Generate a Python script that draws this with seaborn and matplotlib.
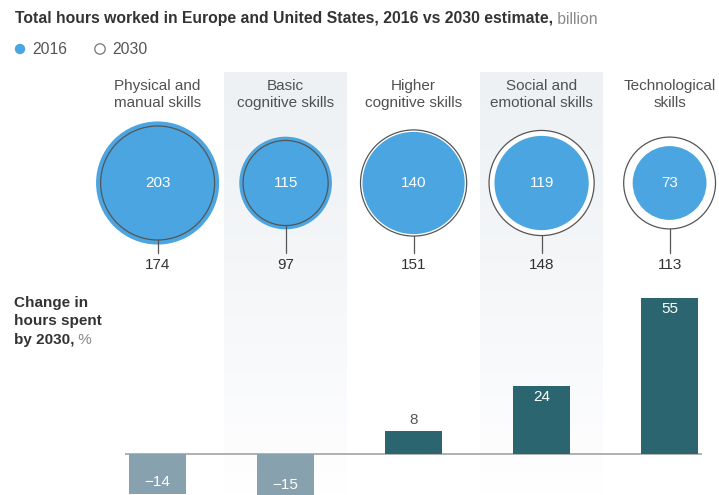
import numpy as np
import pandas as pd
import matplotlib
matplotlib.use("Agg")
import matplotlib.pyplot as plt
from matplotlib.patches import Circle
from matplotlib.colors import LinearSegmentedColormap
import seaborn as sns

# ---------------- data ----------------
categories = ["Physical and\nmanual skills", "Basic\ncognitive skills", "Higher\ncognitive skills",
              "Social and\nemotional skills", "Technological\nskills"]
hours_2016 = [203, 115, 140, 119, 73]
hours_2030 = [174, 97, 151, 148, 113]
change_pct = [-14, -15, 8, 24, 55]
shaded = [False, True, False, True, False]

title_bold = "Total hours worked in Europe and United States, 2016 vs 2030 estimate,"
title_unit = " billion"
legend_labels = ["2016", "2030"]

# ---------------- style ----------------
sns.set_theme(style="white")
plt.rcParams['font.family'] = ['Liberation Sans', 'DejaVu Sans']

BLUE = "#4ba5e0"
POS = "#2b6670"
NEG = "#88a1af"
DARK = "#333333"
GREY = "#8a8a8a"

W, H = 719, 495
fig = plt.figure(figsize=(W / 100, H / 100), dpi=100)
fig.patch.set_facecolor("white")

# background axes in pixel coordinates (for bands & free text)
bg = fig.add_axes([0, 0, 1, 1])
bg.axis("off")

UNIT = 128.0          # px per category
X0 = 93.6             # px of x = -0.5
n = len(categories)

# shaded gradient bands (fade to white toward the bar baseline)
grad = np.linspace(0, 1, 256).reshape(-1, 1)
band_cmap = LinearSegmentedColormap.from_list(
    "band", [(0, "#edf1f4"), (0.45, "#f4f6f8"), (0.9, "#fdfdfe"), (1.0, "#ffffff")])
for i, s in enumerate(shaded):
    if s:
        cx = X0 + (i + 0.5) * UNIT
        bg.imshow(grad, cmap=band_cmap, aspect="auto",
                  extent=[cx - 61.5, cx + 61.5, H, 72], zorder=0)
bg.set_xlim(0, W)
bg.set_ylim(H, 0)

# title
t = bg.text(15, 19, title_bold, fontsize=11.3, fontweight="bold", color=DARK,
            va="center", ha="left")
bg.annotate(title_unit, xy=(1, 0), xycoords=t, va="bottom", ha="left",
            fontsize=11.3, color=GREY)

# legend
bg.add_patch(Circle((20, 49), 5.2, facecolor=BLUE, edgecolor="none"))
bg.add_patch(Circle((100, 49), 5.2, facecolor="white", edgecolor="#777777", lw=0.9))
bg.text(32, 49, legend_labels[0], fontsize=11.3, color="#555555", va="center")
bg.text(112, 49, legend_labels[1], fontsize=11.3, color="#555555", va="center")

# left label for bar section
bg.text(14, 303, "Change in", fontsize=11, fontweight="bold", color=DARK, va="center")
bg.text(14, 321.5, "hours spent", fontsize=11, fontweight="bold", color=DARK, va="center")
t3 = bg.text(14, 340, "by 2030,", fontsize=11, fontweight="bold", color=DARK, va="center")
bg.annotate(" %", xy=(1, 0), xycoords=t3, va="bottom", ha="left", fontsize=11, color=GREY)

# ---------------- circles axes ----------------
XMIN, XMAX = -0.5, 4.38
ax_w = (XMAX - XMIN) * UNIT
top_px, bot_px = 60, 280
ca = fig.add_axes([X0 / W, 1 - bot_px / H, ax_w / W, (bot_px - top_px) / H])
ca.set_xlim(XMIN, XMAX)
ca.set_ylim(0, (bot_px - top_px) / UNIT)
ca.patch.set_alpha(0)
ca.axis("off")

def ypx(py):
    return (bot_px - py) / UNIT

K = 4.32 / UNIT
cy = ypx(183)
for i in range(n):
    r16 = K * np.sqrt(hours_2016[i])
    r30 = K * np.sqrt(hours_2030[i])
    ca.add_patch(Circle((i, cy), r30, facecolor="white", edgecolor="none", zorder=1))
    ca.add_patch(Circle((i, cy), r16, facecolor=BLUE, edgecolor="none", zorder=2))
    ca.add_patch(Circle((i, cy), r30, facecolor="none", edgecolor="#555555", lw=0.9, zorder=3))
    ca.plot([i, i], [cy - r30, ypx(253)], color="#555555", lw=0.9, zorder=3)
    ca.text(i, cy, str(hours_2016[i]), color="white", fontsize=11, ha="center", va="center", zorder=4)
    ca.text(i, ypx(265), str(hours_2030[i]), color=DARK, fontsize=11, ha="center", va="center")
    l1, l2 = categories[i].split("\n")
    ca.text(i, ypx(86), l1, color="#505050", fontsize=11, ha="center", va="center")
    ca.text(i, ypx(103), l2, color="#505050", fontsize=11, ha="center", va="center")

# ---------------- bar axes ----------------
PXU = 2.84  # px per percentage point
base_px = 454
ba = fig.add_axes([X0 / W, 0, ax_w / W, (H - 280) / H])
df = pd.DataFrame({"cat": categories, "chg": change_pct})
colors = [NEG if v < 0 else POS for v in change_pct]
sns.barplot(data=df, x="cat", y="chg", hue="cat", palette=colors, legend=False,
            width=0.45, ax=ba, saturation=1, zorder=2, linewidth=0, edgecolor="none")
ba.set_xlim(XMIN, XMAX)
ba.set_ylim(-(H - base_px) / PXU, (base_px - 280) / PXU)
ba.patch.set_alpha(0)
ba.axis("off")
ba.plot([-0.255, 4.25], [0, 0], color="#a3a3a3", lw=1.2, zorder=1, solid_capstyle="butt")

off = 11.5 / PXU
for i, v in enumerate(change_pct):
    lab = ("\u2212" + str(abs(v))) if v < 0 else str(v)
    if v < 0:
        ba.text(i, v + off, lab, color="white", fontsize=11, ha="center", va="center", zorder=3)
    elif v > 12:
        ba.text(i, v - off, lab, color="white", fontsize=11, ha="center", va="center", zorder=3)
    else:
        ba.text(i, v + off, lab, color="#555555", fontsize=11, ha="center", va="center", zorder=3)

fig.savefig("out.png", dpi=100, facecolor="white")
